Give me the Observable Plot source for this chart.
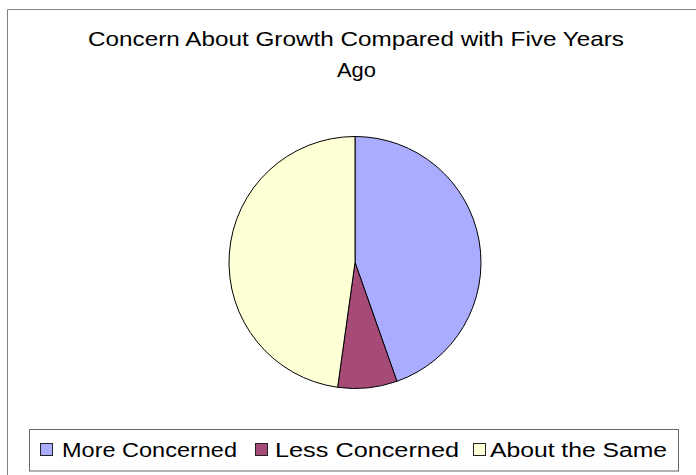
<!DOCTYPE html>
<html><head><meta charset="utf-8">
<script src="https://cdn.jsdelivr.net/npm/d3@7"></script>
<script src="https://cdn.jsdelivr.net/npm/@observablehq/plot@0.6"></script>
<style>
html,body{margin:0;padding:0;background:#fff;}
#wrap{position:relative;width:696px;height:475px;overflow:hidden;font-family:"Liberation Sans",Arial,sans-serif;}
#wrap svg{position:absolute;left:0;top:0;}
</style></head><body><div id="wrap"></div>
<script>
const categories = ["More Concerned", "Less Concerned", "About the Same"];
const shares = [44.6, 7.6, 47.8];
const colors = ["#A9ACFF", "#A64A78", "#FFFFD6"];
const titleLines = ["Concern About Growth Compared with Five Years", "Ago"];

const data = categories.map((c, i) => ({category: c, value: shares[i]}));

const pieMark = (index, scales, values, dims) => {
  let cx, cy, r;
  if (scales.x && scales.y) {
    cx = scales.x(0); cy = scales.y(0); r = Math.abs(scales.x(1) - scales.x(0));
  } else {
    const w = dims.width - dims.marginLeft - dims.marginRight;
    const h = dims.height - dims.marginTop - dims.marginBottom;
    cx = dims.marginLeft + w / 2; cy = dims.marginTop + h / 2; r = Math.min(w, h) / 2;
  }
  const arcs = d3.pie().sort(null).value(d => d.value)(data);
  const arc = d3.arc().innerRadius(0).outerRadius(r);
  const g = d3.create("svg:g").attr("transform", `translate(${cx},${cy})`);
  g.selectAll("path").data(arcs).join("path")
    .attr("d", arc)
    .attr("fill", d => scales.color ? scales.color(d.data.category) : colors[d.index])
    .attr("stroke", "#000").attr("stroke-width", 1).attr("stroke-linejoin", "round");
  return g.node();
};

const chart = Plot.plot({
  width: 696, height: 475,
  marginLeft: 229, marginRight: 215, marginTop: 136.5, marginBottom: 86.5,
  x: {domain: [-1, 1], axis: null},
  y: {domain: [-1, 1], axis: null},
  color: {domain: categories, range: colors},
  style: {background: "transparent"},
  marks: [pieMark]
});
const wrap = document.getElementById("wrap");
wrap.appendChild(chart);

// overlay: frame, title, legend
const ov = d3.create("svg").attr("width", 696).attr("height", 475)
  .style("font-family", '"Liberation Sans", Arial, sans-serif');
ov.append("path").attr("d", "M7.5,480V9.5H700").attr("fill", "none").attr("stroke", "#808080").attr("stroke-width", 1);

const titleLayout = [{x: 88, y: 46, len: 536}, {x: 337, y: 77, len: 39}];
titleLines.forEach((t, i) => {
  ov.append("text").attr("x", titleLayout[i].x).attr("y", titleLayout[i].y)
    .attr("font-size", 21).attr("fill", "#000")
    .attr("textLength", titleLayout[i].len).attr("lengthAdjust", "spacingAndGlyphs")
    .text(t);
});

ov.append("rect").attr("x", 29.5).attr("y", 429.5).attr("width", 649).attr("height", 41.5)
  .attr("fill", "#fff").attr("stroke", "#666").attr("stroke-width", 1);
const legendLayout = [{sx: 40, tx: 62, len: 175}, {sx: 255, tx: 275, len: 184}, {sx: 473, tx: 490, len: 177}];
categories.forEach((c, i) => {
  const L = legendLayout[i];
  ov.append("rect").attr("x", L.sx + 0.5).attr("y", 443.5).attr("width", 12).attr("height", 12)
    .attr("fill", colors[i]).attr("stroke", "#222").attr("stroke-width", 1);
  ov.append("text").attr("x", L.tx).attr("y", 457).attr("font-size", 20).attr("fill", "#000")
    .attr("textLength", L.len).attr("lengthAdjust", "spacingAndGlyphs").text(c);
});
wrap.appendChild(ov.node());
</script></body></html>
